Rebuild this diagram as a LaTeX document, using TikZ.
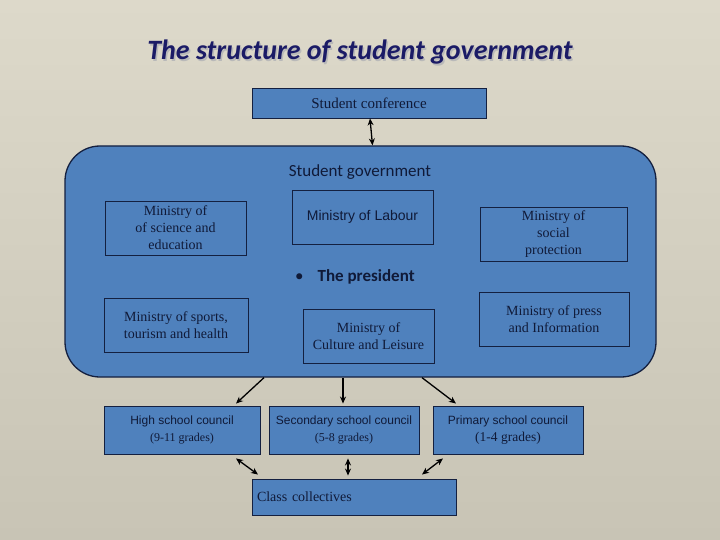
\documentclass[tikz,border=0pt]{standalone}
\usepackage{fontspec}
\setmainfont{Liberation Serif}
\newfontfamily\arialf{Liberation Sans}
\newfontfamily\calf{Carlito}
\usetikzlibrary{arrows.meta}
\definecolor{bgtop}{HTML}{DDD9CA}
\definecolor{bgbot}{HTML}{C8C4B5}
\definecolor{boxblue}{HTML}{4F81BD}
\definecolor{edge}{HTML}{142040}
\definecolor{txt}{HTML}{101a38}
\definecolor{titlecol}{HTML}{1B1B66}
\tikzset{
  mbox/.style={draw=edge, line width=0.9pt, fill=boxblue, inner sep=1pt, align=center, text=txt, font=\fontsize{14}{17}\selectfont},
  innerbox/.style={draw=edge, line width=0.8pt, inner sep=1pt, align=center, text=txt, font=\fontsize{14}{17}\selectfont},
  arr/.style={-{Stealth[length=7pt,width=6pt]}, line width=1.3pt, black},
  darr/.style={{Stealth[length=7pt,width=6pt]}-{Stealth[length=7pt,width=6pt]}, line width=1.3pt, black}
}
\begin{document}
\begin{tikzpicture}[x=1pt,y=-1pt]
\useasboundingbox (0,0) rectangle (720,540);
\shade[top color=bgtop, bottom color=bgbot] (0,0) rectangle (720,540);

% title
\node[text=gray!55, font=\calf\bfseries\itshape\fontsize{28}{32}\selectfont] (titleshadow) at (361.5,54) {The structure of student government};
\node[text=titlecol, font=\calf\bfseries\itshape\fontsize{28}{32}\selectfont] (title) at (360,52.5) {The structure of student government};

% conference
\node[mbox, minimum width=234pt, minimum height=30pt, font=\fontsize{15}{17}\selectfont] (conf) at (369,103) {Student conference};

% government
\node[draw=edge, line width=1.3pt, fill=boxblue, rounded corners=35pt, minimum width=591pt, minimum height=231pt] (gov) at (360.5,261.5) {};
\node[text=txt, font=\calf\fontsize{17}{20}\selectfont] (govlabel) at (360,172) {Student government};

\node[innerbox, minimum width=141pt, minimum height=54pt] (sci) at (175.5,228) {Ministry of\\of science and\\education};
\node[innerbox, minimum width=141pt, minimum height=54pt, font=\arialf\fontsize{14}{17}\selectfont] (lab) at (362.5,217) {Ministry of Labour};
\node[innerbox, minimum width=147pt, minimum height=54pt] (soc) at (553.5,234) {Ministry of\\social\\protection};

\node[anchor=west, text=txt, font=\calf\bfseries\fontsize{17}{20}\selectfont, inner sep=0pt] (pres) at (295,276.5) {{\mdseries\textbullet}\hspace{14pt}The president};

\node[innerbox, minimum width=144pt, minimum height=54pt] (spo) at (176,325) {Ministry of sports,\\tourism and health};
\node[innerbox, minimum width=131pt, minimum height=54pt] (cul) at (368.5,336) {Ministry of\\Culture and Leisure};
\node[innerbox, minimum width=150pt, minimum height=54pt] (prs) at (554,319) {Ministry of press\\and Information};

% councils
\node[mbox, minimum width=156pt, minimum height=48pt] (hs) at (182,430) {{\arialf\fontsize{12}{16}\selectfont High school council}\\{\fontsize{12}{16}\selectfont (9-11 grades)}};
\node[mbox, minimum width=150pt, minimum height=48pt] (ss) at (344,430) {{\arialf\fontsize{12}{16}\selectfont Secondary school council}\\{\fontsize{12}{16}\selectfont (5-8 grades)}};
\node[mbox, minimum width=150pt, minimum height=48pt] (ps) at (508,430) {{\arialf\fontsize{12}{16}\selectfont Primary school council}\\{\fontsize{13.5}{16}\selectfont (1-4 grades)}};

\node[mbox, minimum width=204pt, minimum height=36pt, text width=194pt, align=left, inner sep=3pt] (cc) at (354,497) {Class collectives};

% connectors
\draw[darr] ([xshift=1pt]conf.south) -- ([xshift=12pt]gov.north);
\draw[arr] ([xshift=-96.5pt]gov.south) -- ([xshift=54pt,yshift=2pt]hs.north);
\draw[arr] ([xshift=-17.5pt]gov.south) -- ([xshift=-1pt,yshift=2pt]ss.north);
\draw[arr] ([xshift=61.5pt]gov.south) -- ([xshift=-52pt,yshift=2pt]ps.north);
\draw[darr] ([xshift=54pt,yshift=-4pt]hs.south) -- ([xshift=-96pt,yshift=4pt]cc.north);
\draw[darr] ([xshift=4pt,yshift=-4pt]ss.south) -- ([xshift=-6pt,yshift=3pt]cc.north);
\draw[darr] ([xshift=-65pt,yshift=-4pt]ps.south) -- ([xshift=68pt,yshift=4pt]cc.north);
\end{tikzpicture}
\end{document}
